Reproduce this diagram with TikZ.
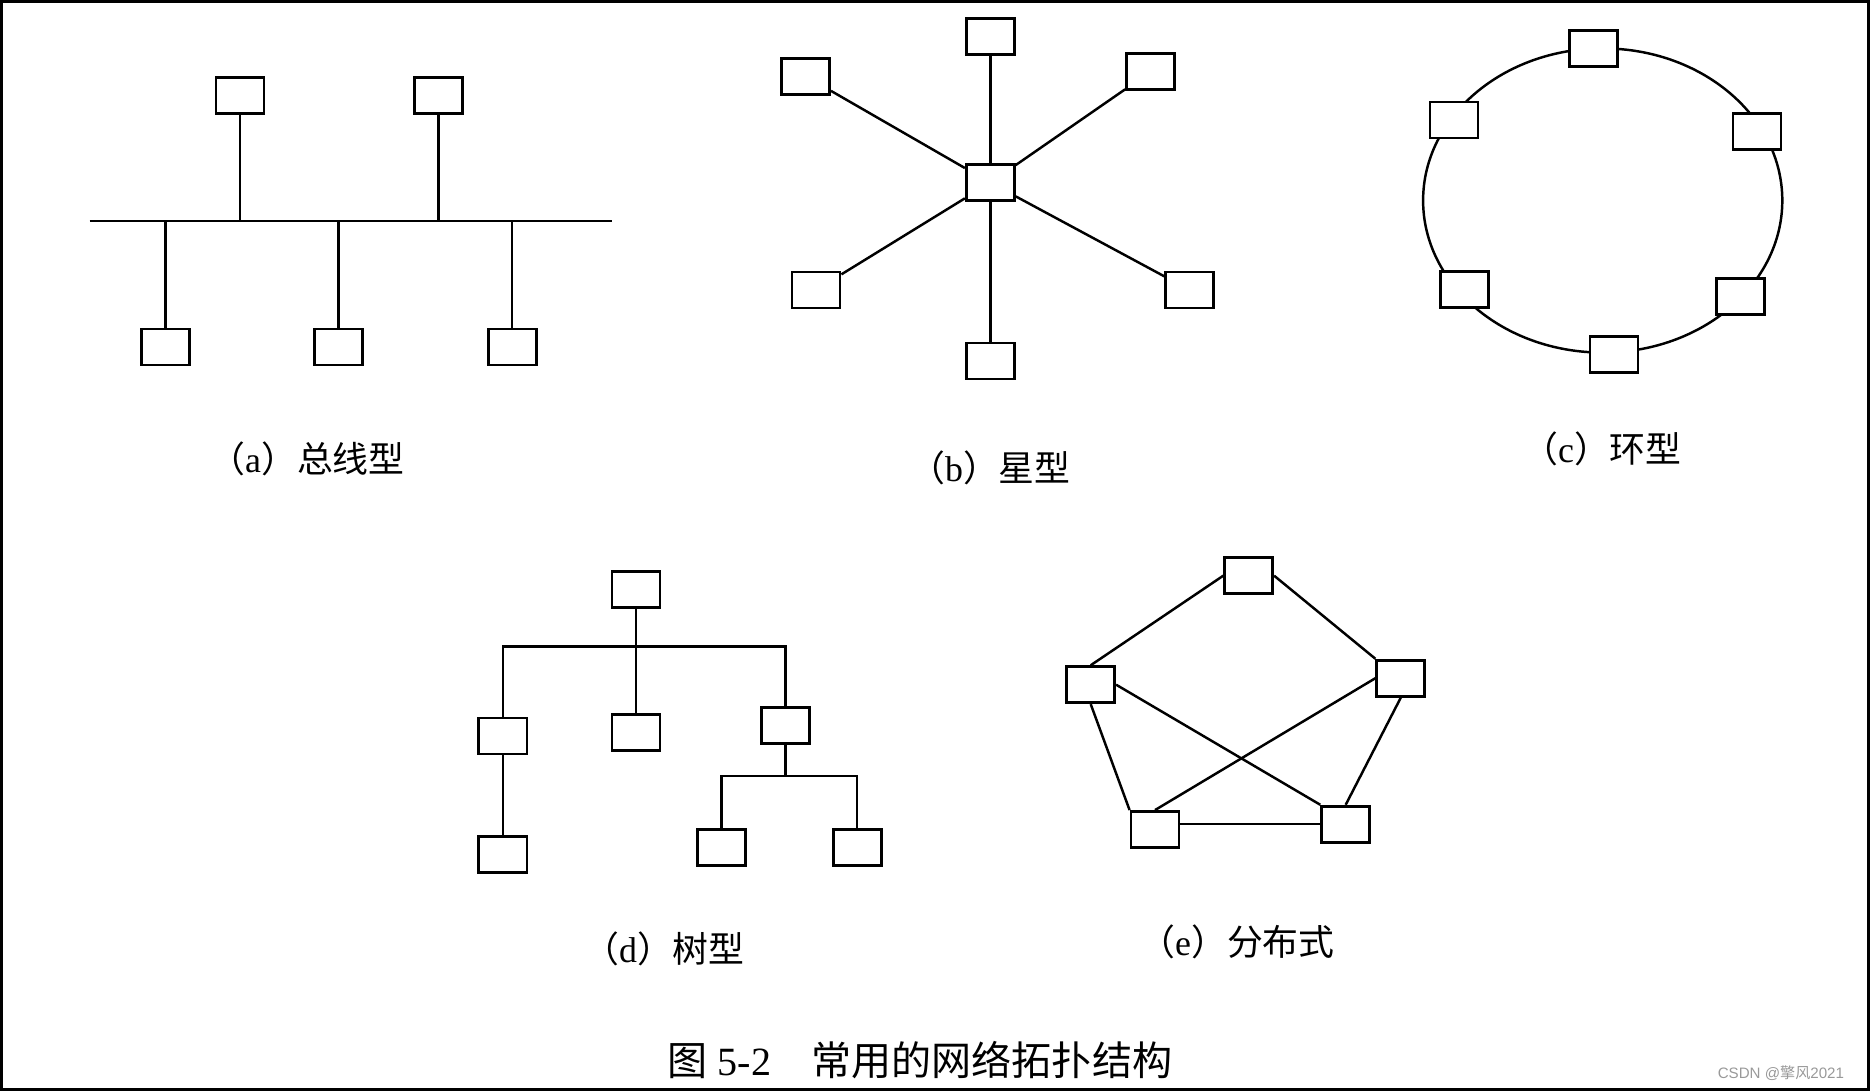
\documentclass[tikz,border=0pt]{standalone}
\usepackage{fontspec}
\usepackage{tikz}
\usetikzlibrary{calc}
\setmainfont{Liberation Serif}
\newfontfamily\cjk{Noto Sans CJK SC}
\newfontfamily\wmfont{Liberation Sans}
\definecolor{csdngrau}{HTML}{999999}
\newcommand{\teilbild}[2]{{\cjk （}#1{\cjk ）#2}}

\begin{document}
\begin{tikzpicture}[x=0.01cm, y=-0.01cm, line width=0.7pt,
    box/.style={draw, fill=white, minimum width=0.48cm, minimum height=0.36cm, inner sep=0pt, line width=0.8pt},
    unterschrift/.style={font=\fontsize{10.2pt}{12pt}\selectfont}]

    % Rahmen um das ganze Bild
    \useasboundingbox (0,0) rectangle (1872,1092);
    \draw[line width=0.75pt] (1.5,1.5) rectangle (1868.5,1089.5);

    % (a) Bus
    \coordinate (busL) at (89.6,221);
    \coordinate (busR) at (612.4,221);
    \draw (busL) -- (busR);
    \node[box] (a1) at (240,95.5) {};
    \node[box] (a2) at (438.4,95.5) {};
    \node[box] (a3) at (165.4,347) {};
    \node[box] (a4) at (338.6,347) {};
    \node[box] (a5) at (512.2,347) {};
    \foreach \i in {1,...,5}
        \draw (a\i) -- (a\i |- busL);

    % (b) Stern
    \node[box] (hub) at (990.3,182.7) {};
    \node[box] (b1) at (990.3,36.8) {};
    \node[box] (b2) at (1150.6,71.7) {};
    \node[box] (b3) at (1189.7,290) {};
    \node[box] (b4) at (990.3,361) {};
    \node[box] (b5) at (816,290) {};
    \node[box] (b6) at (805.5,76.2) {};
    \foreach \i in {1,...,6}
        \draw (hub) -- (b\i);

    % (c) Ring
    \coordinate (ring) at (1602.7,200.5);
    \draw (ring) ellipse [x radius=1.795cm, y radius=1.52cm];
    \node[box] (c1) at (1593.8,48.3) {};
    \node[box] (c2) at (1757,131.2) {};
    \node[box] (c3) at (1740.3,296.5) {};
    \node[box] (c4) at (1614,354.2) {};
    \node[box] (c5) at (1464.4,289.8) {};
    \node[box] (c6) at (1454,120) {};

    % (d) Baum
    \node[box] (root) at (636,589.3) {};
    \node[box] (d1) at (502.9,736) {};
    \node[box] (d2) at (636,732.3) {};
    \node[box] (d3) at (785.4,725.3) {};
    \node[box] (d4) at (502.9,854.7) {};
    \node[box] (d5) at (721.4,847.8) {};
    \node[box] (d6) at (857.1,847.8) {};
    \coordinate (bar) at (636,646.7);
    \coordinate (subbar) at (785.4,776);
    \draw (root) -- (bar);
    \draw (d1) -- (d1 |- bar) -| (d3);
    \draw (d2) -- (d2 |- bar);
    \draw (d1) -- (d4);
    \draw (d3) -- (subbar);
    \draw (d5) |- (subbar) -| (d6);

    % (e) verteilt (Masche)
    \node[box] (etop) at (1248.7,575.7) {};
    \node[box] (eleft) at (1090.7,684.7) {};
    \node[box] (eright) at (1400.8,678.2) {};
    \node[box] (ebl) at (1155,829.5) {};
    \node[box] (ebr) at (1345.7,824.2) {};
    \draw (etop.west) -- (eleft.north);
    \draw (etop.east) -- (eright.north west);
    \draw (eleft.east) -- (ebr.north west);
    \draw (eright.west) -- (ebl.north);
    \draw (eleft.south) -- (ebl.north west);
    \draw (eright.south) -- (ebr.north);
    \draw (ebr.west -| ebl.east) -- (ebr.west);

    % Beschriftungen der Teilbilder
    \node[unterschrift] (la) at (307,459) {\teilbild{a}{总线型}};
    \node[unterschrift] (lb) at (990,468) {\teilbild{b}{星型}};
    \node[unterschrift] (lc) at (1602,449) {\teilbild{c}{环型}};
    \node[unterschrift] (ld) at (664,949) {\teilbild{d}{树型}};
    \node[unterschrift] (le) at (1237,942) {\teilbild{e}{分布式}};

    % Bildunterschrift und Wasserzeichen
    \node[font=\fontsize{11.4pt}{13pt}\selectfont] (titel) at (920,1060)
        {{\cjk 图} 5-2\quad{\cjk 常用的网络拓扑结构}};
    \node[font=\wmfont\fontsize{4.3pt}{5pt}\selectfont, text=csdngrau, anchor=east] (wm) at (1857,1073)
        {CSDN @{\cjk 擎风}2021};

\end{tikzpicture}
\end{document}
